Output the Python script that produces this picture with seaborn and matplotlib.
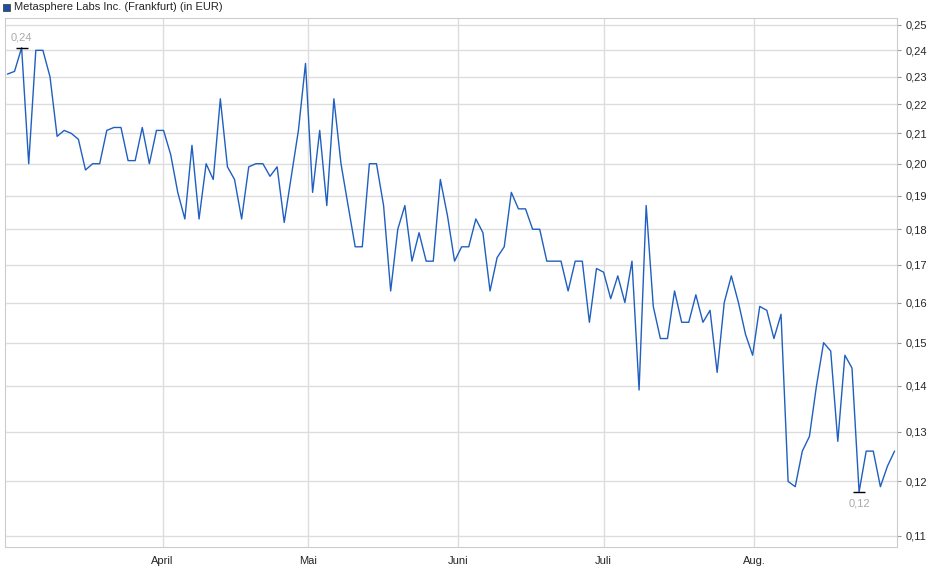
import pandas as pd
import seaborn as sns
import matplotlib
matplotlib.use('Agg')
import matplotlib.pyplot as plt
import matplotlib.dates as mdates
from matplotlib.ticker import FixedLocator, NullLocator

prices = [0.231, 0.232, 0.241, 0.200, 0.240, 0.240, 0.230, 0.209, 0.211, 0.210,
          0.208, 0.198, 0.200, 0.200, 0.211, 0.212, 0.212, 0.201, 0.201, 0.212,
          0.200, 0.211, 0.211, 0.203, 0.191, 0.183, 0.206, 0.183, 0.200, 0.195,
          0.222, 0.199, 0.195, 0.183, 0.199, 0.200, 0.200, 0.196, 0.199, 0.182,
          0.196, 0.211, 0.235, 0.191, 0.211, 0.187, 0.222, 0.200, 0.187, 0.175,
          0.175, 0.200, 0.200, 0.187, 0.163, 0.180, 0.187, 0.171, 0.179, 0.171,
          0.171, 0.195, 0.184, 0.171, 0.175, 0.175, 0.183, 0.179, 0.163, 0.172,
          0.175, 0.191, 0.186, 0.186, 0.180, 0.180, 0.171, 0.171, 0.171, 0.163,
          0.171, 0.171, 0.155, 0.169, 0.168, 0.161, 0.167, 0.160, 0.171, 0.139,
          0.187, 0.159, 0.151, 0.151, 0.163, 0.155, 0.155, 0.162, 0.155, 0.158,
          0.143, 0.160, 0.167, 0.160, 0.152, 0.147, 0.159, 0.158, 0.151, 0.157,
          0.120, 0.119, 0.126, 0.129, 0.140, 0.150, 0.148, 0.128, 0.147, 0.144,
          0.118, 0.126, 0.126, 0.119, 0.123, 0.126]
dates = pd.date_range("2024-02-29", "2024-08-30", periods=len(prices))
month_ticks = ["2024-04-01", "2024-05-01", "2024-06-01", "2024-07-01", "2024-08-01"]
month_labels = ["April", "Mai", "Juni", "Juli", "Aug."]
y_ticks = [0.11, 0.12, 0.13, 0.14, 0.15, 0.16, 0.17, 0.18, 0.19, 0.20, 0.21, 0.22, 0.23, 0.24, 0.25]

df = pd.DataFrame({"date": dates, "price": prices})

sns.set_style("white")
plt.rcParams['font.family'] = ['Liberation Sans', 'DejaVu Sans']
fig = plt.figure(figsize=(9.4, 5.79), dpi=100)
ax = fig.add_axes([5 / 940, 32 / 579, 892 / 940, 529 / 579])
sns.lineplot(data=df, x="date", y="price", ax=ax, color="#1f5fbf", linewidth=1)

ax.set_yscale("log")
ax.set_ylim(0.108, 0.2528)
ax.set_xlim(dates[0] - pd.Timedelta(days=0.5), dates[-1] + pd.Timedelta(days=0.5))
ax.yaxis.set_major_locator(FixedLocator(y_ticks))
ax.yaxis.set_minor_locator(NullLocator())
ax.set_yticklabels([f"{v:.2f}".replace(".", ",") for v in y_ticks])
ax.yaxis.tick_right()
ax.set_xticks(pd.to_datetime(month_ticks))
ax.set_xticklabels(month_labels)
ax.tick_params(axis="both", labelsize=8, length=3, color="#999999")
ax.grid(True, color="#dddddd", linewidth=1)
ax.set_xlabel("")
ax.set_ylabel("")
for s in ax.spines.values():
    s.set_color("#cccccc")

# min / max markers
imax = int(pd.Series(prices).idxmax())
imin = int(pd.Series(prices).idxmin())
for i, off, va in [(imax, 4, "bottom"), (imin, -5, "top")]:
    ax.plot(dates[i], prices[i], marker="_", color="black", markersize=9, mew=1)
    ax.annotate(f"{prices[i]:.2f}".replace(".", ","), (dates[i], prices[i]),
                xytext=(0, off), textcoords="offset points", ha="center", va=va,
                fontsize=8, color="#aaaaaa")

fig.text(14 / 940, 1 - 7 / 579, "Metasphere Labs Inc. (Frankfurt) (in EUR)", fontsize=8,
         va="center", ha="left")
fig.patches.append(matplotlib.patches.Rectangle((3 / 940, 1 - 11 / 579), 7 / 940, 7 / 579,
                   transform=fig.transFigure, facecolor="#1f4fa0", edgecolor="#333333", lw=0.5))

fig.savefig("out.png", dpi=100)
